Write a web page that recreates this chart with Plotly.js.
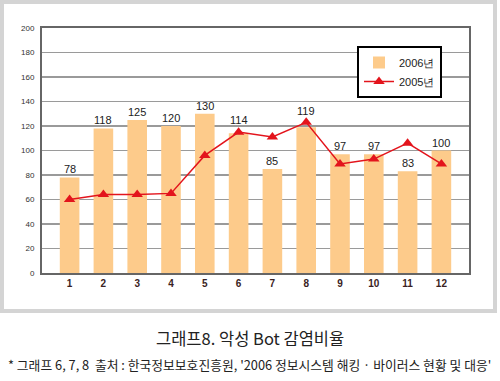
<!DOCTYPE html>
<html><head><meta charset="utf-8">
<script src="https://cdn.plot.ly/plotly-3.0.1.min.js"></script>
<style>html,body{margin:0;padding:0;background:#fff}#c{width:500px;height:381px}</style>
</head><body><div id="c"></div>
<script>
const months = ['1','2','3','4','5','6','7','8','9','10','11','12'];
const v2006 = [78,118,125,120,130,114,85,119,97,97,83,100];
const v2005 = [60,64,64,65,96,115,111,123,89,93,106,89];
const yTicks = [0,20,40,60,80,100,120,140,160,180,200];

const L=42, R=469, T=28, B=273, W=500, H=381;
const pw=R-L, ph=B-T;
const px=x=>(x-L)/pw, py=y=>(B-y)/ph;

const annotations = v2006.map((v,i)=>{
  const lv=v2005[i];
  const y = (lv >= v-2 && lv-v <= 10) ? lv+3 : v;
  return {x:i, y:y, text:String(v), showarrow:false, yanchor:'bottom', yshift:0,
    font:{family:'Liberation Sans, Arial, sans-serif', size:11, color:'#222'}};
});
annotations.push({xref:'paper',yref:'paper',x:px(250),y:py(338),text:'그래프8. 악성 Bot 감염비율',showarrow:false,
  xanchor:'center',yanchor:'middle',font:{family:'Noto Sans CJK KR',size:16.5,color:'#222'}});
annotations.push({xref:'paper',yref:'paper',x:px(249),y:py(364),text:"* 그래프 6, 7, 8  출처 : 한국정보보호진흥원, '2006 정보시스템 해킹 · 바이러스 현황 및 대응'",showarrow:false,
  xanchor:'center',yanchor:'middle',font:{family:'Noto Sans CJK KR',size:12.8,color:'#222'}});

const data=[
 {type:'bar', name:'2006년', x:months, y:v2006, marker:{color:'#FDCB8B', line:{width:0}}, hoverinfo:'none'},
 {type:'scatter', mode:'lines+markers', name:'2005년', x:months, y:v2005,
  line:{color:'#E3141C', width:1.5}, marker:{symbol:'triangle-up', size:10, color:'#E3141C'}, hoverinfo:'none'}
];
const layout={
 width:W, height:H, margin:{l:L,r:W-R,t:T,b:H-B,pad:0},
 paper_bgcolor:'#fff', plot_bgcolor:'#fff', bargap:0.42, showlegend:true,
 xaxis:{type:'category', showgrid:false, showline:true, linecolor:'#666', linewidth:2, mirror:true,
   ticks:'', tickfont:{family:'Liberation Sans, Arial, sans-serif', size:10, color:'#3a2222', weight:'bold'}, fixedrange:true},
 yaxis:{range:[0,200], tickvals:yTicks, ticktext:yTicks.map(String), showgrid:true, gridcolor:'#9a9a9a', gridwidth:1.5,
   showline:true, linecolor:'#666', linewidth:2, mirror:true, zeroline:false, ticks:'', ticklabelstandoff:4,
   tickfont:{family:'Liberation Sans, Arial, sans-serif', size:8, color:'#333'}, fixedrange:true},
 legend:{x:px(357), y:py(46), xanchor:'left', yanchor:'top', bgcolor:'#fff', bordercolor:'#000', borderwidth:2,
   font:{family:'Liberation Sans, Arial, sans-serif', size:11, color:'#222'}, itemwidth:30, tracegroupgap:2},
 annotations:annotations,
 shapes:[{type:'rect', xref:'paper', yref:'paper', x0:px(2), x1:px(495), y0:py(2), y1:py(311),
   line:{color:'#d4d4d4', width:4}, fillcolor:'rgba(0,0,0,0)', layer:'below'}]
};
Plotly.newPlot('c', data, layout, {staticPlot:true});
</script></body></html>
